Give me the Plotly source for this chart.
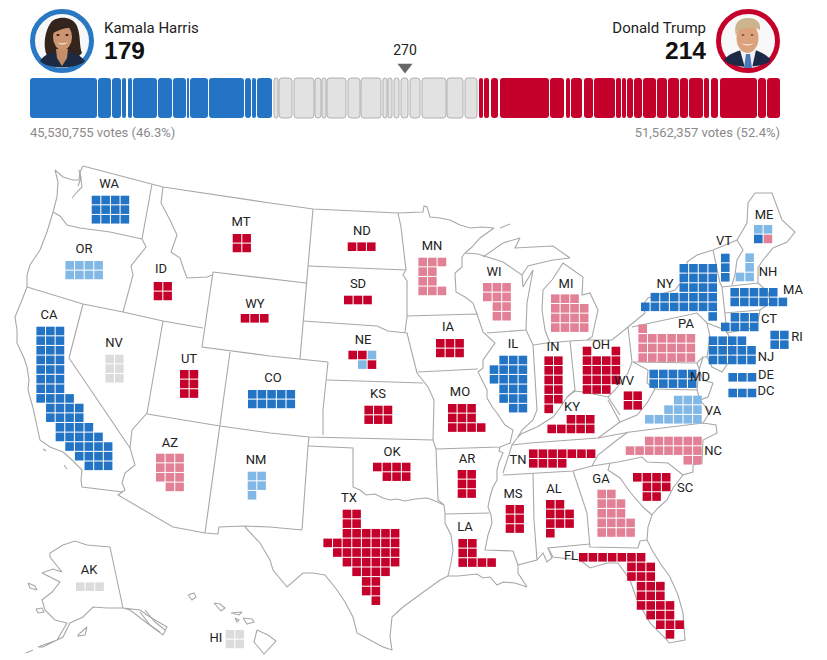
import plotly.graph_objects as go

# ---------- header data ----------
candidates = ["Kamala Harris", "Donald Trump"]
electoral_votes = ["179", "214"]
popular_votes = ["45,530,755 votes (46.3%)", "51,562,357 votes (52.4%)"]
threshold_label = "270"

blue_segments = [(30,97),(98,111),(112,121),(122,126),(128,132),(133,157),(158,172),(173,186),(187,189),(190,208),(209,244),(245,251),(252,256),(257,272)]
gray_segments = [(274,278),(279,292),(294,314),(315,321),(322,326),(327,346),(348,360),(361,381),(383,387),(388,392),(394,399),(401,408),(410,420),(422,446),(447,463),(465,477)]
red_segments = [(479,483),(484,489),(491,498),(500,549),(550,564),(566,570),(571,582),(584,593),(594,615),(616,621),(622,626),(627,633),(634,642),(643,656),(657,667),(668,679),(680,688),(689,703),(704,709),(711,718),(720,757),(758,766),(767,780)]

# ---------- state data: rows of cells, b/l/r/p/g = rating ----------
cell_rows = {
 "WA":["bbbb"]*3, "OR":["llll"]*2,
 "CA":["bbb"]*7+["bbbb"," bbbb"," bbbb","  bbbb","  bbbbb","   bbbbb","    bbbb","     bbb"],
 "ID":["rr"]*2, "MT":["rr"]*2, "WY":["rrr"], "NV":["gg"]*3, "UT":["rr"]*3, "CO":["bbbbb"]*2,
 "AZ":["ppp","ppp","ppp"," pp"], "NM":["ll","ll","l"], "AK":["ggg"], "HI":["gg"]*2,
 "ND":["rrr"], "SD":["rrr"], "NE":["rrl"," lr"], "MN":["ppp","pp","pp","ppp"],
 "WI":["ppp","ppp"," pp"," pp"], "IA":["rrr"]*2, "IL":[" bbb","bbbb","bbbb"," bbb"," bbb","  bb"],
 "MO":["rrr","rrr","rrrr"], "KS":["rrr"]*2, "OK":["rrrr"," rrr"],
 "TX":["  rr","  rr","  rrrrrr","rrrrrrrr"," rrrrrrr","  rrrrrr","   rrrr","    rr","    rr","     r"],
 "AR":["rr"]*3, "LA":["rr","rr","rrrr"], "MS":["rr"]*3, "TN":["rrrrrrr","rrrr"],
 "KY":["  rrr","rrrrr"], "AL":["rr","rrr","rrr","r"], "GA":["pp","ppp","ppp","pppp","pppp"],
 "SC":["rrrr"," rrr"," rr"], "NC":["  pppppp","pppppppp","      pp"],
 "VA":["   lll","  llll","llllll"],
 "FL":["rrrrrrr","     rrr","     rrr","      rrr","      rrr","      rrrr","       rrr","        rrr","         r"],
 "IN":["rr"]*5+["r"], "OH":["r  r","rrrr","rrrr","rrrr","rrr"], "WV":["rr"]*2,
 "MI":["ppp","pppp","pppp","pppp"], "PA":["p","pppppp","pppppp","pppppp"],
 "NY":["    bbbb","    bbbb","    bbbb"," bbbbbbb","bbbbbbbb","       b"],
 "VT":["b"]*3, "NH":[" l"," l","ll"], "ME":["ll","bp"], "MA":["bbbbb","bbbbbb"],
 "CT":[" bbb","bbbb"], "RI":["bb"]*2, "NJ":["bbbb","bbbbb","bbbbb"], "DE":["bbb"], "DC":["bbb"],
 "MD":["bbbbb"]*2,
}
cell_origin = {
 "WA":(96,200),"OR":(69.7,265.3),"CA":(40.7,331),"ID":(158,286.3),"MT":(237,238.3),"WY":(245,318.3),
 "NV":(109.7,359),"UT":(184.3,374.3),"CO":(252.3,394.3),"AZ":(160.3,458),"NM":(252,476),"AK":(80.3,586.7),
 "HI":(230,634.3),"ND":(352,246.7),"SD":(348.3,300),"NE":(352.7,355),"MN":(422.7,262),"WI":(487.3,287.3),
 "IA":(440.3,343.3),"IL":(494,360),"MO":(452.3,408.3),"KS":(368.7,410),"OK":(377.3,467),"TX":(327.7,514),
 "AR":(462,474.3),"LA":(462.7,543.3),"MS":(510,509.3),"TN":(533.3,453.7),"KY":(551.7,419.3),"AL":(550.3,504.3),
 "GA":(601.7,494),"SC":(637.3,477.3),"NC":(630,441),"VA":(649.3,400),"FL":(583.3,557.3),"IN":(548.7,360.7),
 "OH":(587,351),"WV":(628,395.7),"MI":(555.3,298.7),"PA":(642.7,328.7),"NY":(645.3,268.3),"VT":(725.3,258),
 "NH":(740,257.7),"ME":(758.3,229.3),"MA":(734.7,292.3),"CT":(725.3,317.3),"RI":(774.7,335),"NJ":(713,340.7),
 "DE":(732.7,377.3),"DC":(732.7,393),"MD":(653.7,374),
}
state_label_pos = {
 "WA":(109,185),"OR":(84,250),"CA":(49,316),"ID":(161,270),"NV":(114,344),"UT":(189,360),"MT":(241,223),
 "WY":(255,305),"CO":(273,379),"ND":(362,232),"SD":(358,285),"NE":(363,341),"KS":(378,395),"OK":(392,453),
 "TX":(349,499),"MN":(432,247),"IA":(448,328),"MO":(460,393),"AR":(467,460),"LA":(465,528),"WI":(494,273),
 "IL":(513,345),"MS":(513,495),"TN":(518,461),"AL":(554,490),"KY":(572,408),"GA":(601,480),"FL":(571,557),
 "SC":(685,489),"NC":(713,452),"VA":(713,412),"WV":(624,382),"IN":(553,348),"OH":(601,346),"MI":(566,285),
 "PA":(686,325),"NY":(665,285),"VT":(724,242),"NH":(768,273),"ME":(764,216),"MA":(793,291),"CT":(769,320),
 "RI":(797,338),"NJ":(766,358),"MD":(700,378),"DE":(766,376),"DC":(766,392),"AZ":(170,444),"NM":(256,461),
 "AK":(89,571),"HI":(216,639),
}

# ---------- state outlines ----------
boundaries = [
 # northern border
 [(83,166),(152,184),(163,187),(270,203),(313,209),(398,213),(423,212),(424,206),(427,207),(430,217),(440,218),(450,220),(460,225),(470,228),(482,227),(494,228),(480,238),(472,247),(465,253)],
 # WA coast, OR coast, CA coast
 [(83,166),(80,172),(79,180),(73,180),(63,177),(55,170),(58,182),(57,197),(53,212),(47,232),(40,250),(30,265),(27,275),(27,287),(22,300),(15,317),(17,330),(17,343),(24,358),(27,367),(29,380),(28,390),(33,408),(38,430),(40,440),(50,447),(63,452),(72,460),(82,470),(81,480),(82,487),(123,492)],
 [(80,172),(82,187),(77,192),(72,198)],
 [(79,170),(81,178),(78,186)],
 [(43,449),(46,451)],[(64,465),(67,469)],
 # WA/OR, WA/ID, ID/OR
 [(53,212),(60,216),(67,225),(80,228),(110,232),(142,239)],
 [(152,184),(142,239),(146,247),(131,266),(133,275),(123,312)],
 [(27,287),(83,304),(123,312),(163,321),(203,328)],
 [(83,304),(69,358),(103,408),(130,448)],
 [(163,187),(161,203),(170,220),(177,235),(171,252),(180,258),(184,270),(187,278),(207,277),(212,275)],
 [(213,272),(270,279),(306,283)],
 [(213,272),(202,347),(270,356),(300,359),(328,362)],
 [(163,321),(147,413),(132,430),(130,448),(135,465),(125,473),(122,483),(125,490),(118,495),(173,527),(205,533),(218,534),(219,527),(245,526),(270,527),(302,530)],
 [(147,414),(220,426),(270,433),(309,437),(433,440),(436,449)],
 [(230,352),(222,410),(205,533)],
 [(308,446),(353,448),(353,487),(360,490),(366,495),(375,494),(383,498),(390,500),(397,499),(405,501),(415,499),(427,498),(433,500),(438,502),(444,505),(445,514),(445,523),(451,535),(453,550),(451,563),(448,576)],
 [(309,437),(308,446),(302,530)],
 # TX and Gulf coast
 [(245,527),(260,543),(270,560),(273,570),(287,587),(303,573),(313,573),(325,575),(337,590),(345,602),(353,617),(357,633),(370,640),(383,647),(392,650),(390,637),(392,617),(403,607),(418,596),(430,587),(440,580),(448,576),(458,576),(477,574),(483,578),(490,577),(497,585),(503,582),(515,583),(527,587),(523,581),(518,573),(518,565),(537,560),(543,553),(547,562),(552,558),(548,548),(590,544)],
 # Plains
 [(313,209),(308,266),(306,283),(303,321),(300,359)],
 [(308,266),(406,270)],
 [(303,321),(377,326),(388,331),(402,332),(407,333),(413,357),(417,373),(428,387),(434,400),(433,440)],
 [(398,213),(401,227),(406,270),(403,275),(407,281),(407,317),(405,332)],
 [(328,362),(323,410),(323,435)],
 [(327,380),(423,383)],
 [(407,316),(477,314),(483,332),(495,343),(483,360),(483,368),(478,372),(481,378),(487,390),(487,398),(493,408),(497,413),(505,425),(513,430),(511,437),(510,443),(500,447),(436,449),(438,500),(444,505)],
 [(418,372),(478,369)],
 [(465,253),(462,257),(462,267),(455,273),(456,292),(465,297),(473,303),(477,314)],
 [(487,333),(526,330),(527,303),(533,270),(523,287),(522,275),(503,262),(488,257),(478,254),(465,253)],
 # Michigan UP and lower
 [(483,257),(503,243),(520,238),(515,248),(533,247),(553,246),(570,258),(553,260),(540,263),(528,266),(522,275)],
 [(500,228),(510,224)],
 [(550,343),(545,330),(542,310),(543,290),(552,280),(563,263),(583,277),(582,295),(590,293),(598,310),(592,337),(587,340),(570,341),(547,343)],
 [(526,330),(533,345),(547,343)],
 [(533,345),(537,410),(533,420),(522,430),(518,437)],
 [(570,341),(575,390),(567,397),(560,408),(553,417),(545,422),(537,427),(530,430),(521,434)],
 [(587,340),(595,340),(612,340),(628,327),(645,313)],
 [(628,327),(632,362),(628,373),(615,390),(608,397),(595,394),(583,392),(575,391),(567,397)],
 # Northeast
 [(645,313),(643,305),(648,298),(675,290),(687,275),(687,262),(697,255),(713,250),(737,240),(747,223),(748,203),(755,193),(765,193),(772,193),(782,220),(795,232),(787,242),(773,248),(763,260),(758,268),(758,283),(768,292),(770,303),(760,310),(757,327),(740,330),(727,333)],
 [(713,250),(717,267),(720,283),(722,287),(725,313),(727,333)],
 [(737,240),(743,250),(737,260),(735,275),(732,285)],
 [(722,287),(758,283)],
 [(725,313),(760,310)],
 [(632,327),(697,313),(707,323),(725,330)],
 [(707,323),(710,337),(707,357),(703,357),(697,363),(633,362)],
 [(725,330),(732,340),(730,360),(722,372),(712,367),(707,357)],
 [(697,363),(703,380),(713,383),(708,397),(700,400),(697,390),(699,370),(703,357)],
 [(633,362),(648,370),(647,383),(655,389),(697,390)],
 [(655,389),(647,403),(637,415),(620,422),(608,400)],
 [(608,397),(620,415)],
 [(700,400),(710,412),(703,423)],
 [(530,443),(598,438),(630,432),(703,423),(716,425),(717,433),(703,440),(702,463),(693,465),(693,472),(683,475),(673,488),(667,500),(658,508),(652,515),(648,527),(647,540),(652,550),(660,563),(670,577),(678,595),(683,613),(685,640),(669,643),(667,640),(650,623),(637,600),(630,580),(618,563),(607,563),(590,568),(580,560),(553,557),(548,548)],
 [(598,438),(620,422)],
 [(512,445),(530,443)],
 [(521,434),(518,437),(512,445),(503,473)],
 [(500,447),(499,451),(503,453),(499,462),(497,470),(497,480),(493,487),(490,497),(488,507),(491,515),(492,523),(488,535),(485,550),(513,551),(518,565)],
 [(445,514),(489,513)],
 [(503,475),(533,473),(573,471),(592,466),(610,463),(618,462),(642,457),(647,462),(668,463),(683,475)],
 [(592,466),(598,455),(617,440),(628,432)],
 [(610,463),(608,470),(620,478),(630,492),(643,507),(652,515)],
 [(533,473),(534,520),(537,560)],
 [(573,471),(587,513),(588,525),(590,547),(638,548),(640,541),(647,540)],
 # Alaska
 [(110,547),(123,608),(140,610),(150,617),(167,627),(163,635),(147,623),(130,610),(123,608),(107,608),(93,607),(83,617),(70,623),(63,637),(43,647),(38,647),(57,640),(67,623),(55,620),(45,610),(42,600),(52,592),(60,582),(42,573),(53,569),(62,572),(50,557),(50,553),(63,545),(75,541),(87,545),(110,547)],
 [(140,612),(150,625),(160,632)],[(145,610),(155,622),(165,630)],
 [(78,635),(87,627),(85,635),(78,636),(78,635)],[(28,583),(35,586),(37,590),(30,588),(28,583)],[(36,609),(42,608),(44,612),(38,613),(36,609)],[(26,653),(33,650)],
 # Hawaii
 [(188,595),(194,593),(196,597),(192,600),(188,595)],[(214,603),(220,604),(225,608),(221,611),(214,603)],
 [(231,613),(242,612),(239,615),(231,613)],[(235,618),(239,620),(237,622),(235,618)],[(243,618),(252,619),(254,622),(247,624),(243,618)],
 [(257,630),(268,635),(276,641),(264,654),(254,642),(257,630)],
]

# ---------- styling ----------
RATING_COLOR = {"b":"#2474c6","l":"#82b8e6","r":"#c4002b","p":"#e28095","g":"#dcdcdc"}
PITCH = 9.63
fig = go.Figure()

def seg_trace(segs, fill, edge):
    fig.add_trace(go.Bar(orientation="h", y=[98]*len(segs), x=[b-a for a,b in segs], base=[a for a,b in segs],
        width=[40]*len(segs), marker=dict(color=fill, line=dict(color=edge, width=1 if edge!=fill else 0), cornerradius=3), hoverinfo="skip"))
seg_trace(blue_segments, "#2474c6", "#2474c6")
seg_trace(gray_segments, "#e2e2e2", "#b0b0b0")
seg_trace(red_segments, "#c4002b", "#c4002b")

lx, ly = [], []
for line in boundaries:
    lx += [p[0] for p in line]+[None]
    ly += [p[1] for p in line]+[None]
fig.add_trace(go.Scatter(x=lx, y=ly, mode="lines", line=dict(color="#a8a8a8", width=1.1), hoverinfo="skip"))

cells = {k:([],[]) for k in RATING_COLOR}
for st, rows in cell_rows.items():
    x0, y0 = cell_origin[st]
    for r, row in enumerate(rows):
        for c, ch in enumerate(row):
            if ch != " ":
                cells[ch][0].append(x0+c*PITCH); cells[ch][1].append(y0+r*PITCH)
for k,(xs,ys) in cells.items():
    fig.add_trace(go.Scatter(x=xs, y=ys, mode="markers", marker=dict(symbol="square", size=8.6, color=RATING_COLOR[k], line=dict(width=0)), hoverinfo="skip"))

NARROW = "Roboto"
codes = list(state_label_pos)
fig.add_trace(go.Scatter(x=[state_label_pos[c][0] for c in codes], y=[state_label_pos[c][1] for c in codes], text=codes,
    mode="text", textposition="middle center", textfont=dict(family=NARROW, size=13, color="#222"), hoverinfo="skip"))

def txt(x,y,s,pos,size,color,family=NARROW):
    fig.add_trace(go.Scatter(x=[x],y=[y],text=[s],mode="text",textposition=pos,textfont=dict(family=family,size=size,color=color),hoverinfo="skip"))
txt(104,29,candidates[0],"middle right",15,"#222")
txt(706,29,candidates[1],"middle left",15,"#222")
txt(104,53,"<b>"+electoral_votes[0]+"</b>","middle right",24.5,"#111","Liberation Sans")
txt(706,53,"<b>"+electoral_votes[1]+"</b>","middle left",24.5,"#111","Liberation Sans")
txt(30,134,popular_votes[0],"middle right",13,"#8a8a8a")
txt(780,134,popular_votes[1],"middle left",13,"#8a8a8a")
txt(405,51,threshold_label,"middle center",14,"#222")
fig.add_trace(go.Scatter(x=[405],y=[67],mode="markers",marker=dict(symbol="triangle-down",size=13,color="#666"),hoverinfo="skip"))

# portraits, drawn as simple silhouettes
def ell(cx,cy,rx,ry,fill):
    return dict(type="circle",xref="x",yref="y",x0=cx-rx,x1=cx+rx,y0=cy-ry,y1=cy+ry,fillcolor=fill,line=dict(width=0),layer="above")
def path(d,fill):
    return dict(type="path",xref="x",yref="y",path=d,fillcolor=fill,line=dict(width=0),layer="above")
shapes=[
 dict(type="circle",xref="x",yref="y",x0=32.5,x1=91.5,y0=11.5,y1=70.5,fillcolor="#f8f8f8",line=dict(color="#2878c4",width=5),layer="below"),
 path("M 47 56 C 42 44 46 30 50 24 C 54 16 72 15 77 26 C 81 36 79 46 82 53 L 75 60 L 52 60 Z","#33241c"),
 path("M 40 61 C 44 54 52 53 58 52 L 66 52 C 72 53 80 54 85 61 C 78 69 48 70 40 61 Z","#1d2a44"),
 path("M 56 49 L 68 49 L 67 58 L 62 66 L 57 58 Z","#c48d68"),
 ell(62.5,37,9.5,13,"#cc9470"),
 path("M 53 25 C 58 22 68 22 72 28 C 66 27 60 30 53 33 Z","#33241c"),
 ell(58,35,1.6,0.9,"#2a1a12"), ell(67,35,1.6,0.9,"#2a1a12"),
 path("M 57 42 Q 62.5 47 68 42 Q 62.5 45 57 42 Z","#fff"),
 dict(type="circle",xref="x",yref="y",x0=718.5,x1=777.5,y0=11.5,y1=70.5,fillcolor="#f8f8f8",line=dict(color="#c4002b",width=5),layer="below"),
 path("M 724 60 C 728 54 736 52 741 50 L 755 50 C 760 52 766 54 771 60 C 764 69 731 69 724 60 Z","#1c2a48"),
 path("M 740 50 L 756 50 L 752 68 L 745 68 Z","#f2f2f2"),
 path("M 746 54 L 750 54 L 752 68 L 744 68 Z","#4a78b8"),
 ell(747.5,38,11,15,"#dba27c"),
 path("M 736 36 C 733 24 738 18 748 18 C 758 18 761 24 760 30 C 754 26 744 28 738 30 Z","#cbb48e"),
 ell(743,35,1.5,0.8,"#5a3a2a"), ell(752,35,1.5,0.8,"#5a3a2a"),
 path("M 741 43 Q 747.5 48 754 43 Q 747.5 46 741 43 Z","#fff"),
]

fig.update_layout(width=827,height=660,autosize=False,margin=dict(l=0,r=0,t=0,b=0),showlegend=False,
    plot_bgcolor="white",paper_bgcolor="white",barmode="overlay",shapes=shapes,
    xaxis=dict(range=[0,827],visible=False,fixedrange=True),
    yaxis=dict(range=[660,0],visible=False,fixedrange=True))
fig.write_html("out.html",config={"displayModeBar":False},post_script="document.body.style.margin='0';document.documentElement.style.overflow='hidden';")
